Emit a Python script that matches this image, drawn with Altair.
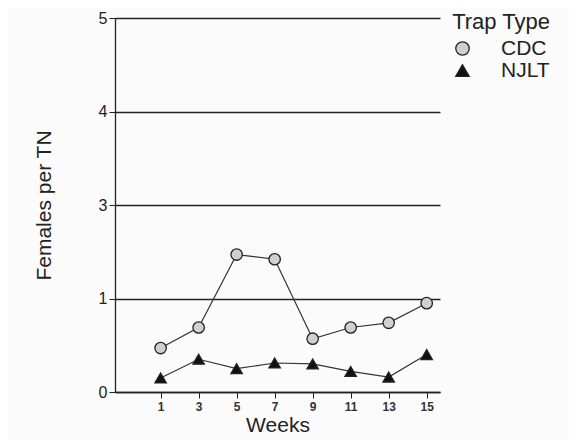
import altair as alt
import pandas as pd

weeks = [1, 3, 5, 7, 9, 11, 13, 15]
cdc = [0.47, 0.69, 1.47, 1.42, 0.57, 0.69, 0.74, 0.95]
njlt = [0.15, 0.35, 0.25, 0.31, 0.30, 0.22, 0.16, 0.40]
series = ["CDC", "NJLT"]
y_ticks = [0, 1, 2, 3, 4]
y_labels = ["0", "1", "3", "4", "5"]

rows = []
for w, v in zip(weeks, cdc):
    rows.append({"Weeks": w, "val": v, "Trap Type": "CDC"})
for w, v in zip(weeks, njlt):
    rows.append({"Weeks": w, "val": v, "Trap Type": "NJLT"})
df = pd.DataFrame(rows)

label_expr = " : ".join(
    f"datum.value == {t} ? '{l}'" for t, l in zip(y_ticks, y_labels)
) + " : ''"

FONT = "Liberation Sans"

x = alt.X("Weeks:Q", scale=alt.Scale(domain=[-1.4, 15.7], nice=False, zero=False),
          axis=alt.Axis(values=weeks, title="Weeks", grid=False, domain=True,
                        domainColor="#222", domainWidth=1.3, tickColor="#222",
                        tickSize=6, labelFontSize=12, labelFontWeight="bold",
                        labelFont=FONT, labelColor="#333", labelPadding=3,
                        titleFont=FONT, titleFontSize=21, titleFontWeight="normal",
                        titleColor="#222", titlePadding=2))
y = alt.Y("val:Q", scale=alt.Scale(domain=[0, 4], nice=False),
          axis=alt.Axis(values=y_ticks, labelExpr=label_expr, title="Females per TN",
                        grid=True, gridColor="#222", gridWidth=1.3, domain=True,
                        domainColor="#222", domainWidth=1.3, tickColor="#222",
                        tickSize=6, labelFontSize=16, labelFont=FONT,
                        labelColor="#222", labelPadding=2, titleFont=FONT,
                        titleFontSize=21, titleFontWeight="normal",
                        titleColor="#222", titlePadding=44))

leg = alt.Legend(title="Trap Type", orient="none", legendX=337, legendY=-6,
                 titleFont=FONT, titleFontSize=22, titleFontWeight="normal",
                 titleColor="#222", titlePadding=4, titleAnchor="end",
                 labelFont=FONT, labelFontSize=21, labelColor="#222", labelOffset=28,
                 symbolSize=180, symbolStrokeWidth=1.3, rowPadding=0)

lines = alt.Chart(df).mark_line(color="#333", strokeWidth=1.2).encode(
    x=x, y=y, detail="Trap Type:N"
)
points = alt.Chart(df).mark_point(filled=True, size=130,
                                  strokeWidth=1.3, opacity=1).encode(
    x=x, y=y,
    shape=alt.Shape("Trap Type:N", scale=alt.Scale(domain=series, range=["circle", "triangle-up"]),
                    legend=leg),
    fill=alt.Fill("Trap Type:N", scale=alt.Scale(domain=series, range=["#d0d0d0", "#111"]),
                  legend=leg),
    stroke=alt.Stroke("Trap Type:N", scale=alt.Scale(domain=series, range=["#222", "#222"]),
                      legend=leg),
)

chart = (lines + points).properties(
    width=325, height=374,
    autosize=alt.AutoSizeParams(type="none"),
    padding={"left": 107, "top": 10, "right": 129, "bottom": 48},
    background="#fbfbfb",
).configure_view(stroke=None)

chart.save("out.html", embed_options={"renderer": "svg", "actions": False})
